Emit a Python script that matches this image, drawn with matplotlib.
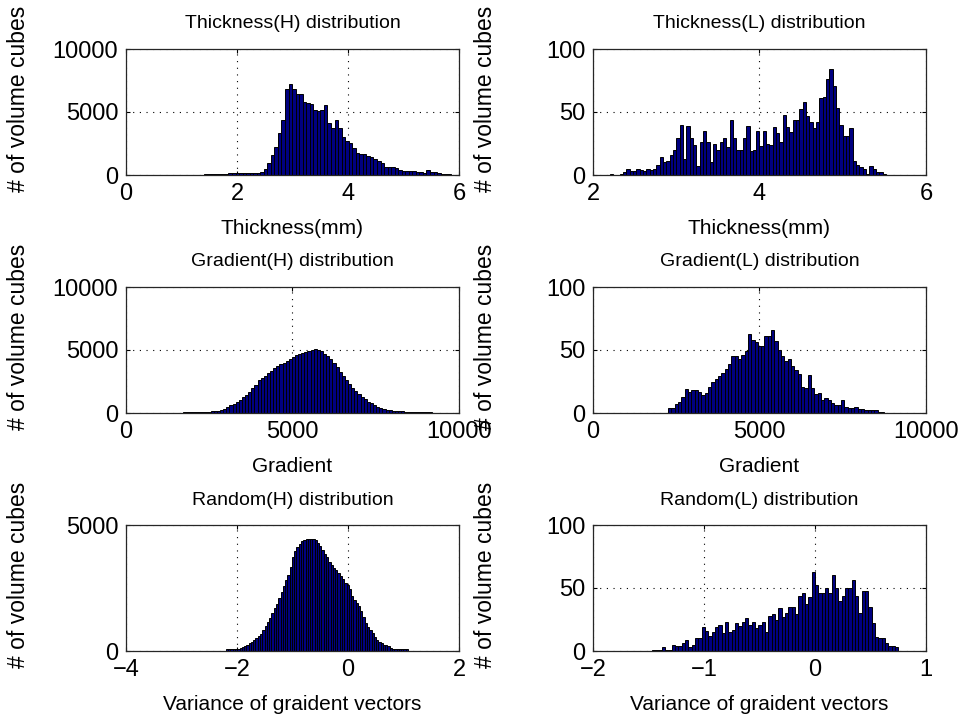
import matplotlib
matplotlib.use("Agg")
import matplotlib.pyplot as plt
import numpy as np

plt.rcParams['font.family'] = ['Liberation Sans', 'DejaVu Sans']

# ---- data (bin range + counts per bin) ----
# Thickness(H)
th_h_range = (1.40, 5.86)
th_h_counts = [110, 110, 110, 110, 115, 115, 115, 120, 120, 120, 125, 125, 130, 130, 140, 160,
               250, 450, 930, 1590, 2250, 3360, 4370, 6800, 7200, 6800, 6400, 6400,
               5820, 5690, 5600, 5160, 5080, 5160, 5560, 4150, 3700, 4370, 3700, 3040,
               2700, 2510, 2120, 1720, 1640, 1640, 1500, 1460, 1250, 1140, 930, 620,
               600, 600, 580, 360, 340, 330, 320, 300, 210, 200, 190, 400, 210, 200,
               190, 90, 80, 70]

# Thickness(L)
th_l_range = (2.20, 5.52)
th_l_counts = [1, 0, 0, 1, 2, 5, 3, 3, 5, 4, 3, 5, 4, 5, 8, 14, 10, 11, 16, 20,
               29, 40, 13, 39, 29, 24, 7, 26, 35, 26, 10, 25, 20, 26, 29, 22, 44, 29,
               20, 20, 29, 39, 19, 20, 35, 23, 35, 25, 24, 38, 33, 26, 48, 38, 34, 44,
               44, 52, 58, 47, 42, 37, 42, 61, 62, 76, 84, 71, 53, 40, 31, 31, 37, 11,
               8, 6, 5, 1, 7, 5, 2, 2, 1]

# Gradient(H)
gr_h_range = (1700, 9200)
gr_h_counts = [90, 90, 95, 95, 100, 100, 105, 110, 115, 120, 140, 170, 260, 320, 450, 600,
               740, 880, 1050, 1250, 1430, 1700, 1950, 2250, 2580, 2800, 2950, 3150,
               3350, 3550, 3700, 3850, 4000, 4150, 4300, 4450, 4580, 4680, 4780, 4870,
               4950, 5020, 5080, 5000, 4900, 4720, 4550, 4300, 4000, 3650, 3280, 2950,
               2650, 2300, 2000, 1720, 1480, 1250, 1080, 900, 760, 620, 500, 400, 320,
               250, 200, 170, 150, 130, 120, 110, 105, 100, 95, 95, 90, 90, 90, 85]

# Gradient(L)
gr_l_range = (2250, 8750)
gr_l_counts = [4, 4, 7, 9, 13, 19, 17, 18, 18, 17, 14, 16, 21, 25, 27, 29, 32, 35, 39,
               45, 45, 43, 46, 49, 63, 58, 56, 53, 53, 61, 61, 66, 57, 50, 45, 41, 43,
               37, 34, 31, 21, 20, 30, 20, 15, 16, 10, 12, 10, 8, 6, 6, 10, 5, 4, 4, 5,
               3, 3, 2, 2, 2, 2, 1, 1]

# Random(H)
rd_h_range = (-2.20, 1.08)
rd_h_counts = [60, 62, 64, 66, 70, 80, 100, 140, 180, 230, 300, 370, 430, 500, 590,
               690, 820, 980, 1150, 1320, 1500, 1700, 1880, 2100, 2330, 2560, 2800,
               3000, 3350, 3750, 3950, 4130, 4250, 4350, 4400, 4440, 4450, 4450, 4440,
               4400, 4300, 4170, 4000, 3850, 3720, 3550, 3400, 3300, 3200, 3080, 2980,
               2850, 2700, 2600, 2450, 2200, 2030, 1900, 1770, 1600, 1350, 1110, 950,
               820, 700, 560, 450, 370, 300, 240, 240, 200, 120, 70, 66, 66, 64, 62,
               60, 60]

# Random(L)
rd_l_range = (-1.47, 0.75)
rd_l_counts = [1, 1, 1, 3, 1, 1, 5, 4, 4, 6, 9, 3, 5, 10, 10, 19, 16, 12, 15, 19, 21,
               14, 23, 15, 17, 22, 20, 23, 26, 21, 23, 18, 21, 23, 15, 28, 29, 25, 34,
               27, 30, 35, 35, 29, 44, 46, 37, 43, 63, 52, 46, 46, 50, 46, 60, 50, 40,
               44, 50, 50, 56, 44, 30, 48, 48, 35, 22, 11, 10, 10, 6, 4, 4, 3]

titles = ["Thickness(H) distribution", "Thickness(L) distribution",
          "Gradient(H) distribution", "Gradient(L) distribution",
          "Random(H) distribution", "Random(L) distribution"]
xlabels = ["Thickness(mm)", "Thickness(mm)", "Gradient", "Gradient",
           "Variance of graident vectors", "Variance of graident vectors"]
ylabel = "# of volume cubes"

xlims = [(0, 6), (2, 6), (0, 10000), (0, 10000), (-4, 2), (-2, 1)]
xticks = [[0, 2, 4, 6], [2, 4, 6], [0, 5000, 10000], [0, 5000, 10000],
          [-4, -2, 0, 2], [-2, -1, 0, 1]]
ylims = [(0, 10000), (0, 100), (0, 10000), (0, 100), (0, 5000), (0, 100)]
yticks = [[0, 5000, 10000], [0, 50, 100], [0, 5000, 10000], [0, 50, 100],
          [0, 5000], [0, 50, 100]]

hists = [(th_h_range, th_h_counts), (th_l_range, th_l_counts),
         (gr_h_range, gr_h_counts), (gr_l_range, gr_l_counts),
         (rd_h_range, rd_h_counts), (rd_l_range, rd_l_counts)]

W, H = 962, 719
fig = plt.figure(figsize=(W / 100, H / 100), dpi=100)

# axes boxes in pixels: (left, top, right, bottom)
col_px = [(126, 459), (593, 926)]
row_px = [(49, 175), (287, 413), (525, 651)]

for k in range(6):
    r, c = divmod(k, 2)
    x0, x1 = col_px[c]
    t0, b0 = row_px[r]
    hpx = b0 - t0
    ax = fig.add_axes([x0 / W, 1 - b0 / H, (x1 - x0) / W, hpx / H])

    (lo, hi), counts = hists[k]
    counts = np.array(counts, dtype=float)
    n = len(counts)
    edges = np.linspace(lo, hi, n + 1)
    centers = (edges[:-1] + edges[1:]) / 2
    ax.bar(centers, counts, width=(hi - lo) / n, color="#000080",
           edgecolor="black", linewidth=0.7, zorder=2)

    ax.set_xlim(*xlims[k])
    ax.set_ylim(*ylims[k])
    ax.set_xticks(xticks[k])
    ax.set_yticks(yticks[k])
    ax.grid(True, color="black", linestyle=(0, (1, 5)), linewidth=0.8)
    ax.set_axisbelow(True)
    ax.tick_params(direction="in", length=3, width=0.8, top=True, right=True,
                   labelsize=17, colors="black")
    ax.tick_params(axis="x", pad=6)
    ax.tick_params(axis="y", pad=5.5)
    for s in ax.spines.values():
        s.set_color("#262626")
        s.set_linewidth(0.9)

    ax.text(0.5, 1 + 25 / hpx, titles[k], transform=ax.transAxes,
            ha="center", va="center", fontsize=14)
    ax.set_xlabel(xlabels[k], fontsize=15)
    ax.xaxis.label.set_va("center")
    ax.xaxis.set_label_coords(0.5, -54 / hpx)
    ax.set_ylabel(ylabel, fontsize=16.5)
    ax.yaxis.label.set_va("center")
    ax.yaxis.set_label_coords(-0.322, 0.5 + 13 / hpx)

fig.savefig("out.png", dpi=100)
